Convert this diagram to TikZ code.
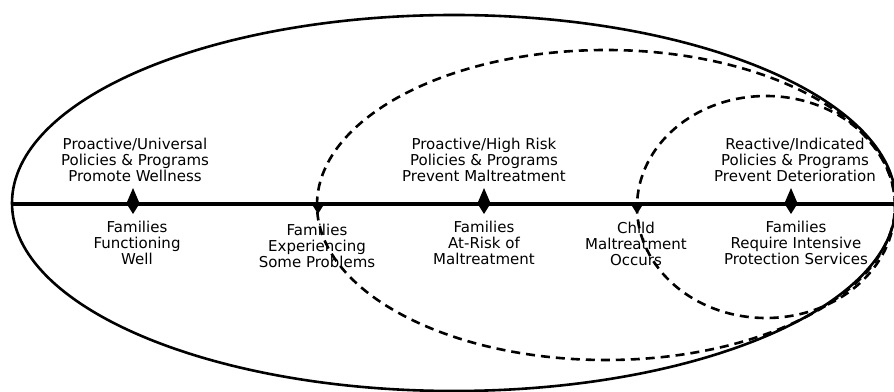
\documentclass[tikz,border=0pt]{standalone}
\usepackage{fontspec}
\setmainfont{DejaVu Sans}
\begin{document}
\begin{tikzpicture}[x=1pt,y=1pt,
  lbl/.style={align=center,inner sep=0pt,font=\fontsize{15}{16}\selectfont},
  outerring/.style={line width=2.6pt},
  dashring/.style={line width=2.6pt,dash pattern=on 9pt off 6pt},
  axisline/.style={line width=4.8pt},
  upmark/.pic={\fill (-6,2) -- (0,16) -- (6,2) -- cycle;},
  downmark/.pic={\fill (-5,-2) -- (0,-10) -- (5,-2) -- cycle;}]
\useasboundingbox (0,0) rectangle (894,391);
% labels
\node[lbl,anchor=north] (t1) at (135,253.5) {Proactive/Universal\\Policies \& Programs\\Promote Wellness};
\node[lbl,anchor=north] (t2) at (484,253.5) {Proactive/High Risk\\Policies \& Programs\\Prevent Maltreatment};
\node[lbl,anchor=north] (t3) at (795,253.5) {Reactive/Indicated\\Policies \& Programs\\Prevent Deterioration};
\node[lbl,anchor=north] (b1) at (137,170.5) {Families\\Functioning\\Well};
\node[lbl,anchor=north] (b2) at (317,167.5) {Families\\Experiencing\\Some Problems};
\node[lbl,anchor=north] (b3) at (484,170.5) {Families\\At-Risk of\\Maltreatment};
\node[lbl,anchor=north] (b4) at (636,169.5) {Child\\Maltreatment\\Occurs};
\node[lbl,anchor=north] (b5) at (796,170.5) {Families\\Require Intensive\\Protection Services};
% rings
\draw[outerring] (454,188) ellipse [x radius=442, y radius=188];
\draw[dashring] (606,186) ellipse [x radius=289, y radius=155];
\draw[dashring] (766,184) ellipse [x radius=129, y radius=111];
% axis
\coordinate (L) at (12,187);
\coordinate (R) at (894,187);
\draw[axisline] (L) -- (R);
% markers
\coordinate (m1) at (133,187);
\coordinate (m2) at (318,187);
\coordinate (m3) at (484,187);
\coordinate (m4) at (637,187);
\coordinate (m5) at (791,187);
\pic at (m1) {upmark};
\pic at (m3) {upmark};
\pic at (m5) {upmark};
\pic at (m1) {downmark};
\pic at (m2) {downmark};
\pic at (m3) {downmark};
\pic at (m4) {downmark};
\pic at (m5) {downmark};
\end{tikzpicture}
\end{document}
